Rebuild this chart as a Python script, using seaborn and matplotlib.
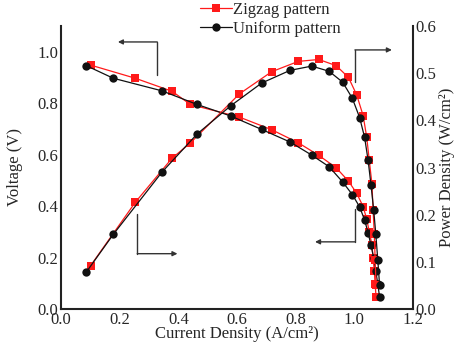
import matplotlib
matplotlib.use("Agg")
import matplotlib.pyplot as plt
import seaborn as sns
import numpy as np

# Zigzag pattern (red squares)
zig_current = [0.101, 0.253, 0.379, 0.441, 0.608, 0.718, 0.809, 0.879, 0.938, 0.980,
               1.008, 1.030, 1.042, 1.051, 1.060, 1.064, 1.068, 1.071, 1.074]
zig_voltage = [0.948, 0.897, 0.846, 0.795, 0.746, 0.697, 0.646, 0.597, 0.549, 0.497,
               0.450, 0.398, 0.350, 0.300, 0.250, 0.198, 0.148, 0.097, 0.047]
zig_power = [0.092, 0.226, 0.320, 0.352, 0.456, 0.503, 0.525, 0.529, 0.516, 0.491,
             0.454, 0.410, 0.365, 0.315, 0.265, 0.210, 0.160, 0.104, 0.050]

# Uniform pattern (black circles)
uni_current = [0.086, 0.178, 0.344, 0.464, 0.579, 0.684, 0.781, 0.855, 0.914, 0.960,
               0.993, 1.018, 1.035, 1.047, 1.057, 1.066, 1.073, 1.080, 1.086]
uni_voltage = [0.946, 0.897, 0.848, 0.795, 0.750, 0.698, 0.649, 0.598, 0.553, 0.494,
               0.445, 0.397, 0.346, 0.296, 0.247, 0.198, 0.148, 0.097, 0.047]
uni_power = [0.078, 0.158, 0.290, 0.371, 0.431, 0.479, 0.506, 0.515, 0.504, 0.481,
             0.447, 0.406, 0.364, 0.315, 0.262, 0.210, 0.160, 0.104, 0.051]

series_labels = ["Zigzag pattern", "Uniform pattern"]
x_ticks = [0.0, 0.2, 0.4, 0.6, 0.8, 1.0, 1.2]
v_ticks = [0.0, 0.2, 0.4, 0.6, 0.8, 1.0]
p_ticks = [0.0, 0.1, 0.2, 0.3, 0.4, 0.5, 0.6]

sns.set_style("white")
plt.rcParams["font.family"] = ["Liberation Serif", "DejaVu Serif"]
plt.rcParams["font.size"] = 12

fig = plt.figure(figsize=(4.59, 3.42), dpi=100)
ax = fig.add_axes([61/459, 33/342, (413-61)/459, (309-26)/342])
ax2 = ax.twinx()

red = "#ff1a1a"
blk = "#111111"
lw = 0.9
ms = 5.4

sns.lineplot(x=zig_current, y=zig_voltage, ax=ax, color=red, marker="s", markersize=ms,
             markeredgewidth=0, linewidth=lw, sort=False, label=series_labels[0])
sns.lineplot(x=uni_current, y=uni_voltage, ax=ax, color=blk, marker="o", markersize=ms+0.6,
             markeredgewidth=0, linewidth=lw, sort=False, label=series_labels[1])
sns.lineplot(x=zig_current, y=zig_power, ax=ax2, color=red, marker="s", markersize=ms,
             markeredgewidth=0, linewidth=lw, sort=False, legend=False)
sns.lineplot(x=uni_current, y=uni_power, ax=ax2, color=blk, marker="o", markersize=ms+0.6,
             markeredgewidth=0, linewidth=lw, sort=False, legend=False)

ax.set_xlim(0, 1.2)
ax.set_ylim(0, 1.1)
ax2.set_ylim(0, 0.6)
ax.set_xticks(x_ticks)
ax.set_yticks(v_ticks)
ax2.set_yticks(p_ticks)
ax.set_xticklabels([f"{t:.1f}" for t in x_ticks])
ax.set_yticklabels([f"{t:.1f}" for t in v_ticks])
ax2.set_yticklabels([f"{t:.1f}" for t in p_ticks])

for a in (ax, ax2):
    a.tick_params(length=0, pad=2, labelsize=12)
    a.spines["top"].set_visible(False)
    for s in ("left", "right", "bottom"):
        a.spines[s].set_color("#222222")
        a.spines[s].set_linewidth(1.5)
ax.spines["right"].set_visible(False)
ax2.spines["left"].set_visible(False)
ax2.spines["bottom"].set_visible(False)

ax.set_xlabel("Current Density (A/cm²)", fontsize=12, labelpad=-1)
ax.set_ylabel("Voltage (V)", fontsize=12, labelpad=10)
ax2.set_ylabel("Power Density (W/cm²)", fontsize=12, labelpad=2)

# direction arrows (in voltage-axis data coordinates)
arrow_col = "#333333"
def corner_arrow(start, corner, head):
    ax.plot([start[0], corner[0]], [start[1], corner[1]], color=arrow_col, lw=1.0, clip_on=False)
    ax.annotate("", xy=head, xytext=corner,
                arrowprops=dict(arrowstyle="-|>", color=arrow_col, lw=1.0,
                                mutation_scale=7, shrinkA=0, shrinkB=0),
                annotation_clip=False)

corner_arrow((0.328, 0.911), (0.328, 1.038), (0.194, 1.038))
corner_arrow((0.260, 0.368), (0.260, 0.215), (0.397, 0.215))
corner_arrow((1.002, 0.882), (1.002, 1.007), (1.128, 1.007))
corner_arrow((1.002, 0.387), (1.002, 0.261), (0.866, 0.261))

ax.legend(loc="upper left", bbox_to_anchor=(200/459, 1.0 - 2/342), bbox_transform=fig.transFigure,
          frameon=False, fontsize=12, handlelength=1.9, handletextpad=0.1,
          labelspacing=0.2, borderpad=0.0, borderaxespad=0.0)

fig.savefig("out.png", dpi=100)
